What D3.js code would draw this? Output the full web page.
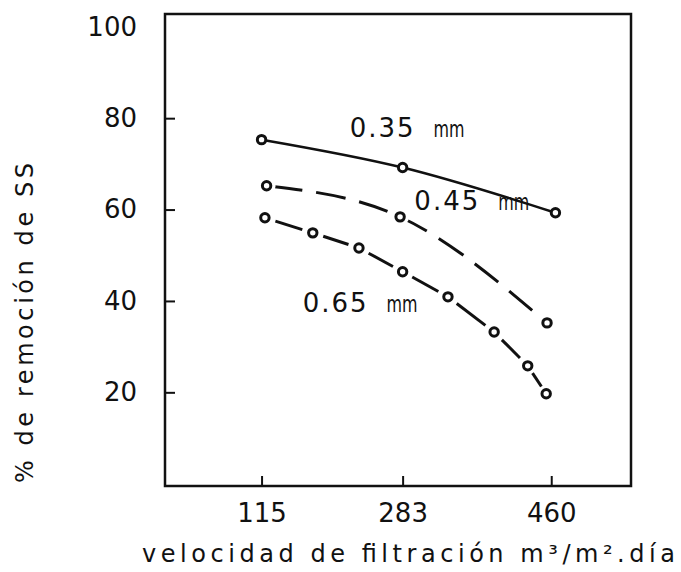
<!DOCTYPE html>
<html>
<head>
<meta charset="utf-8">
<script src="https://cdn.jsdelivr.net/npm/d3@7"></script>
<style>
  body { margin: 0; background: #fff; }
  text { font-family: "DejaVu Sans", sans-serif; fill: #111; }
</style>
</head>
<body>
<script>
// values
let sizes = ["0.35", "0.45", "0.65"];
let vel035 = [115, 283, 465];
let rem035 = [75.3, 69.2, 59.3];
let vel045 = [121, 280, 455];
let rem045 = [65.2, 58.4, 35.2];
let vel065 = [119, 176, 231, 283, 337, 392, 432, 454];
let rem065 = [58.2, 54.9, 51.6, 46.4, 40.9, 33.2, 25.8, 19.7];
let xTicks = [115, 283, 460];
let yTicks = [20, 40, 60, 80, 100];

let w = 681, h = 572;
let margin = {left: 165, right: 50, top: 14, bottom: 86};

let svg = d3.select("body").append("svg").attr("width", w).attr("height", h);

let x = d3.scaleLinear().domain([0, 555]).range([margin.left, w - margin.right]);
let y = d3.scaleLinear().domain([-0.5, 102.8]).range([h - margin.bottom, margin.top]);

let ink = "#111";

// frame
svg.append("rect")
  .attr("x", x(0)).attr("y", y(102.8))
  .attr("width", x(555) - x(0)).attr("height", y(-0.5) - y(102.8))
  .attr("fill", "none").attr("stroke", ink).attr("stroke-width", 2.5);

// axes, ticks point inward
let xAxis = svg.append("g")
  .attr("transform", "translate(0," + y(-0.5) + ")")
  .call(d3.axisBottom(x).tickValues(xTicks).tickSizeInner(-10).tickSizeOuter(0).tickPadding(18));
let yAxis = svg.append("g")
  .attr("transform", "translate(" + x(0) + ",0)")
  .call(d3.axisLeft(y).tickValues(yTicks).tickSizeInner(-10).tickSizeOuter(0).tickPadding(28));

[xAxis, yAxis].forEach(g => {
  g.select(".domain").remove();
  g.selectAll(".tick line").attr("stroke", ink).attr("stroke-width", 2);
  g.selectAll(".tick text").attr("font-size", 26).attr("fill", ink)
    .style("font-family", "'DejaVu Sans', sans-serif");
});
yAxis.selectAll(".tick").filter(d => d == 100).select("line").remove();

// curves
let line = d3.line().x(d => x(d[0])).y(d => y(d[1])).curve(d3.curveMonotoneX);
let pts035 = vel035.map((v, i) => [v, rem035[i]]);
let pts045 = vel045.map((v, i) => [v, rem045[i]]);
let pts065 = vel065.map((v, i) => [v, rem065[i]]);

svg.append("path").attr("d", line(pts035))
  .attr("fill", "none").attr("stroke", ink).attr("stroke-width", 2.5);

svg.append("path").attr("d", line(pts045))
  .attr("fill", "none").attr("stroke", ink).attr("stroke-width", 3)
  .attr("stroke-dasharray", "30,14").attr("stroke-dashoffset", -6);

// 0.65 mm: one dash between each pair of points
svg.selectAll(".seg65")
  .data(d3.pairs(pts065))
  .enter().append("line")
  .each(function(p) {
    let x1 = x(p[0][0]), y1 = y(p[0][1]), x2 = x(p[1][0]), y2 = y(p[1][1]);
    let len = Math.hypot(x2 - x1, y2 - y1);
    let ux = (x2 - x1) / len, uy = (y2 - y1) / len;
    let gap = Math.min(11, len * 0.26);
    d3.select(this)
      .attr("x1", x1 + ux * gap).attr("y1", y1 + uy * gap)
      .attr("x2", x2 - ux * gap).attr("y2", y2 - uy * gap);
  })
  .attr("stroke", ink).attr("stroke-width", 3).attr("stroke-linecap", "butt");

// gaps around the 0.45 markers
svg.selectAll(".halo45")
  .data(pts045)
  .enter().append("circle")
  .attr("cx", d => x(d[0])).attr("cy", d => y(d[1])).attr("r", 9)
  .attr("fill", "#fff");

// markers
svg.selectAll(".mark")
  .data(pts035.concat(pts045, pts065))
  .enter().append("circle")
  .attr("cx", d => x(d[0])).attr("cy", d => y(d[1])).attr("r", 4.2)
  .attr("fill", "#fff").attr("stroke", ink).attr("stroke-width", 3);

// curve labels
let labelPos = [[220, 75.8], [297, 59.8], [164, 37.5]];
sizes.forEach((s, i) => {
  let t = svg.append("text")
    .attr("x", x(labelPos[i][0])).attr("y", y(labelPos[i][1]))
    .attr("font-size", 26);
  t.append("tspan").text(s).attr("letter-spacing", 2);
  t.append("tspan").text("mm").attr("font-size", 23).attr("dx", 18)
    .attr("textLength", 31).attr("lengthAdjust", "spacingAndGlyphs");
});

// axis titles
svg.append("text")
  .attr("x", 142).attr("y", 562)
  .attr("font-size", 24)
  .attr("textLength", 533).attr("lengthAdjust", "spacing")
  .text("velocidad de filtración m³/m².día");

svg.append("text")
  .attr("transform", "translate(33,483) rotate(-90)")
  .attr("font-size", 24)
  .attr("textLength", 320).attr("lengthAdjust", "spacing")
  .text("% de remoción de SS");
</script>
</body>
</html>
